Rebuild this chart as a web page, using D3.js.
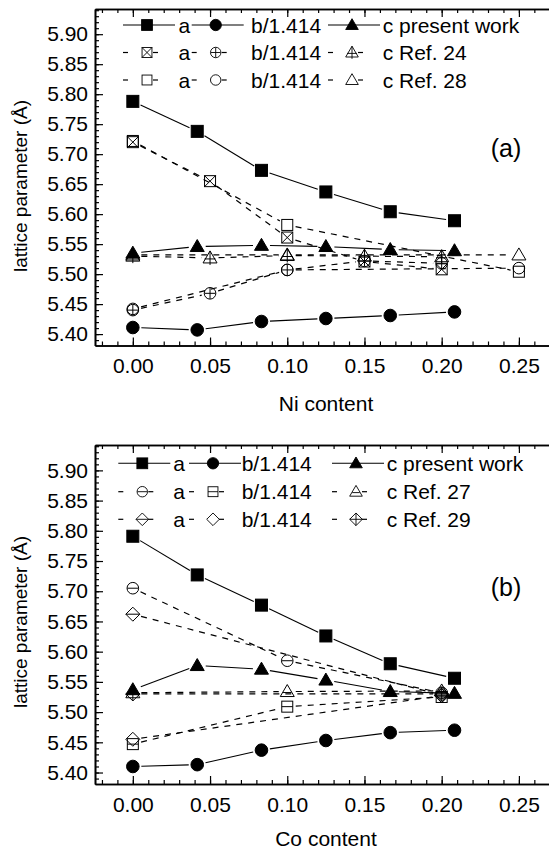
<!DOCTYPE html>
<html>
<head>
<meta charset="utf-8">
<script src="https://cdn.jsdelivr.net/npm/d3@7"></script>
<style>
  body { margin: 0; background: #fff; }
  svg { display: block; }
</style>
</head>
<body>
<svg id="chart"></svg>
<script>
// chart size
let width = 549
let height = 850
let font = 'Liberation Sans, Arial, Helvetica, sans-serif'

// shared axis values
let xTicks = [0, 0.05, 0.10, 0.15, 0.20, 0.25]
let yTicks = [5.40, 5.45, 5.50, 5.55, 5.60, 5.65, 5.70, 5.75, 5.80, 5.85, 5.90]

// (a) Ni doped - present work
let niPresentX = [0, 0.0417, 0.0833, 0.125, 0.1667, 0.2083]
let niPresentA = [5.788, 5.738, 5.673, 5.637, 5.604, 5.589]
let niPresentB = [5.411, 5.407, 5.421, 5.426, 5.431, 5.437]
let niPresentC = [5.535, 5.546, 5.548, 5.546, 5.541, 5.539]

// (a) Ref. 24
let ref24X = [0, 0.05, 0.10, 0.15, 0.20]
let ref24A = [5.720, 5.655, 5.561, 5.521, 5.508]
let ref24B = [5.440, 5.468, 5.507, 5.522, 5.518]
let ref24C = [5.530, 5.527, 5.531, 5.530, 5.529]

// (a) Ref. 28
let ref28X = [0, 0.10, 0.25]
let ref28A = [5.722, 5.582, 5.504]
let ref28B = [5.442, 5.507, 5.510]
let ref28C = [5.532, 5.532, 5.532]

// (b) Co doped - present work
let coPresentX = [0, 0.0417, 0.0833, 0.125, 0.1667, 0.2083]
let coPresentA = [5.791, 5.727, 5.677, 5.626, 5.580, 5.556]
let coPresentB = [5.410, 5.413, 5.437, 5.453, 5.466, 5.470]
let coPresentC = [5.537, 5.577, 5.571, 5.553, 5.534, 5.531]

// (b) Ref. 27
let ref27X = [0, 0.10, 0.20]
let ref27A = [5.705, 5.585, 5.532]
let ref27B = [5.447, 5.509, 5.525]
let ref27C = [5.532, 5.534, 5.535]

// (b) Ref. 29
let ref29X = [0, 0.20]
let ref29A = [5.662, 5.528]
let ref29B = [5.455, 5.527]
let ref29C = [5.530, 5.530]

let svg = d3.select('#chart')
            .attr('width', width)
            .attr('height', height)
            .attr('font-family', font)

let xScale = d3.scaleLinear()
                .domain([-0.0245, 0.275])
                .range([95, 557.5])

// Builds one series object
function series(xs, ys, shape, filled, inner, dashed, label) {
    return {data: xs.map((x, i) => ({x: x, y: ys[i]})), shape, filled, inner, dashed, label}
}

let panels = [
    {
        top: 9, bottom: 345.5, tag: '(a)', tagY: 157, xTitle: 'Ni content', xTitleY: 411, yTitleY: 186,
        legendY: [25, 52.5, 80], legendX: [123, 191.7, 328], textX: [178.5, 251, 382.7],
        rows: [
            [series(niPresentX, niPresentA, 'square', true, null, false, 'a'),
             series(niPresentX, niPresentB, 'circle', true, null, false, 'b/1.414'),
             series(niPresentX, niPresentC, 'triangle', true, null, false, 'c present work')],
            [series(ref24X, ref24A, 'square', false, 'x', true, 'a'),
             series(ref24X, ref24B, 'circle', false, '+', true, 'b/1.414'),
             series(ref24X, ref24C, 'triangle', false, '+', true, 'c Ref. 24')],
            [series(ref28X, ref28A, 'square', false, null, true, 'a'),
             series(ref28X, ref28B, 'circle', false, null, true, 'b/1.414'),
             series(ref28X, ref28C, 'triangle', false, null, true, 'c Ref. 28')]
        ]
    },
    {
        top: 445, bottom: 784, tag: '(b)', tagY: 596, xTitle: 'Co content', xTitleY: 846, yTitleY: 622,
        legendY: [463.3, 491.7, 519.3], legendX: [118.3, 189, 332], textX: [173.3, 241.7, 386.7],
        rows: [
            [series(coPresentX, coPresentA, 'square', true, null, false, 'a'),
             series(coPresentX, coPresentB, 'circle', true, null, false, 'b/1.414'),
             series(coPresentX, coPresentC, 'triangle', true, null, false, 'c present work')],
            [series(ref27X, ref27A, 'circle', false, '-', true, 'a'),
             series(ref27X, ref27B, 'square', false, '-', true, 'b/1.414'),
             series(ref27X, ref27C, 'triangle', false, '-', true, 'c Ref. 27')],
            [series(ref29X, ref29A, 'diamond', false, '-', true, 'a'),
             series(ref29X, ref29B, 'diamond', false, null, true, 'b/1.414'),
             series(ref29X, ref29C, 'diamond', false, '+', true, 'c Ref. 29')]
        ]
    }
]

// Draws one marker at (cx, cy); k scales it
function drawMarker(g, s, cx, cy, k) {
    let m = g.append('g').attr('transform', 'translate(' + cx + ',' + cy + ') scale(' + k + ')')
    let fill = s.filled ? '#000' : 'none'
    let h = s.filled ? 6 : 5.5
    if (s.shape == 'square') {
        m.append('rect').attr('x', -h).attr('y', -h).attr('width', 2 * h).attr('height', 2 * h)
            .attr('fill', fill).attr('stroke', '#000').attr('stroke-width', 1)
    } else if (s.shape == 'circle') {
        m.append('circle').attr('r', h + 0.3).attr('fill', fill).attr('stroke', '#000').attr('stroke-width', 1)
    } else if (s.shape == 'triangle') {
        m.append('path').attr('d', 'M0,-7L7,5L-7,5Z')
            .attr('fill', fill).attr('stroke', '#000').attr('stroke-width', 1)
    } else if (s.shape == 'diamond') {
        m.append('path').attr('d', 'M0,-7L7,0L0,7L-7,0Z')
            .attr('fill', fill).attr('stroke', '#000').attr('stroke-width', 1)
    }
    let r = s.shape == 'diamond' ? 7 : h
    let y0 = s.shape == 'triangle' ? -7 : -r
    let y1 = s.shape == 'triangle' ? 7 : r
    let ym = s.shape == 'triangle' ? 1 : 0
    if (s.inner == 'x') {
        m.append('path').attr('d', 'M' + (-h) + ',' + (-h) + 'L' + h + ',' + h + 'M' + h + ',' + (-h) + 'L' + (-h) + ',' + h)
            .attr('stroke', '#000').attr('stroke-width', 1)
    } else if (s.inner == '+') {
        m.append('path').attr('d', 'M0,' + y0 + 'L0,' + y1 + 'M' + (-r) + ',' + ym + 'L' + r + ',' + ym)
            .attr('stroke', '#000').attr('stroke-width', 1)
    } else if (s.inner == '-') {
        let w = s.shape == 'triangle' ? 4.2 : r
        m.append('path').attr('d', 'M' + (-w) + ',' + ym + 'L' + w + ',' + ym)
            .attr('stroke', '#000').attr('stroke-width', 1)
    }
}

function drawPanel(p) {
    let g = svg.append('g')
    let yScale = d3.scaleLinear().domain([5.381, 5.942]).range([p.bottom, p.top])

    // axes: ticks point inward, frame is the domain line
    let xMinor = d3.range(-2, 28).map(d => d / 100)
    let yMinor = d3.range(539, 595).map(d => d / 100)

    g.append('g').attr('transform', 'translate(0,' + p.bottom + ')')
        .call(d3.axisBottom(xScale).tickValues(xMinor).tickFormat('').tickSizeInner(-4).tickSizeOuter(0))
    g.append('g').attr('transform', 'translate(0,' + p.bottom + ')')
        .call(d3.axisBottom(xScale).tickValues(xTicks).tickFormat(d3.format('.2f'))
              .tickSizeInner(-8).tickSizeOuter(0).tickPadding(13))
    g.append('g').attr('transform', 'translate(0,' + p.top + ')')
        .call(d3.axisTop(xScale).tickValues(xMinor).tickFormat('').tickSizeInner(-4).tickSizeOuter(0))
    g.append('g').attr('transform', 'translate(0,' + p.top + ')')
        .call(d3.axisTop(xScale).tickValues(xTicks).tickFormat('').tickSizeInner(-8).tickSizeOuter(0))
    g.append('g').attr('transform', 'translate(95,0)')
        .call(d3.axisLeft(yScale).tickValues(yMinor).tickFormat('').tickSizeInner(-4).tickSizeOuter(0))
    g.append('g').attr('transform', 'translate(95,0)')
        .call(d3.axisLeft(yScale).tickValues(yTicks).tickFormat(d3.format('.2f'))
              .tickSizeInner(-8).tickSizeOuter(0).tickPadding(7))

    g.selectAll('.domain').attr('stroke-width', 1.6)
    g.selectAll('.tick line').attr('stroke-width', 1.2)
    g.selectAll('.tick text').attr('font-size', 21).attr('font-family', font).attr('fill', '#000')

    // axis titles
    g.append('text').attr('x', 326).attr('y', p.xTitleY)
        .attr('text-anchor', 'middle').attr('font-size', 21).text(p.xTitle)
    g.append('text').attr('transform', 'translate(27,' + p.yTitleY + ') rotate(-90)')
        .attr('text-anchor', 'middle').attr('font-size', 19).text('lattice parameter (Å)')
    g.append('text').attr('x', 506).attr('y', p.tagY)
        .attr('text-anchor', 'middle').attr('font-size', 25).text(p.tag)

    // data: reference series first, present work on top
    let order = [1, 2, 0]
    let gap = 8.5
    order.forEach(r => {
        p.rows[r].forEach(s => {
            let pts = s.data.map(d => [xScale(d.x), yScale(d.y)])
            for (let i = 0; i < pts.length - 1; i++) {
                let [x1, y1] = pts[i], [x2, y2] = pts[i + 1]
                let len = Math.hypot(x2 - x1, y2 - y1)
                if (len < 2 * gap) continue
                let ux = (x2 - x1) / len, uy = (y2 - y1) / len
                g.append('line')
                    .attr('x1', x1 + ux * gap).attr('y1', y1 + uy * gap)
                    .attr('x2', x2 - ux * gap).attr('y2', y2 - uy * gap)
                    .attr('stroke', '#000').attr('stroke-width', s.dashed ? 1.2 : 1.1)
                    .attr('stroke-dasharray', s.dashed ? '6,6' : null)
            }
        })
    })
    order.forEach(r => {
        p.rows[r].forEach(s => {
            s.data.forEach(d => drawMarker(g, s, xScale(d.x), yScale(d.y), 1))
        })
    })

    // legend
    p.rows.forEach((row, r) => {
        let ly = p.legendY[r]
        row.forEach((s, c) => {
            let x0 = p.legendX[c]
            let cx = x0 + 24
            if (s.dashed) {
                g.append('line').attr('x1', x0).attr('x2', x0 + 5).attr('y1', ly).attr('y2', ly)
                    .attr('stroke', '#000').attr('stroke-width', 1.2)
                g.append('line').attr('x1', cx + 6).attr('x2', cx + 11).attr('y1', ly).attr('y2', ly)
                    .attr('stroke', '#000').attr('stroke-width', 1.2)
            } else {
                g.append('line').attr('x1', x0).attr('x2', x0 + 52).attr('y1', ly).attr('y2', ly)
                    .attr('stroke', '#000').attr('stroke-width', 1.1)
            }
            drawMarker(g, s, cx, ly, 0.9)
            g.append('text').attr('x', p.textX[c]).attr('y', ly + 7.5)
                .attr('font-size', 21).text(s.label)
        })
    })
}

panels.forEach(drawPanel)
</script>
</body>
</html>
